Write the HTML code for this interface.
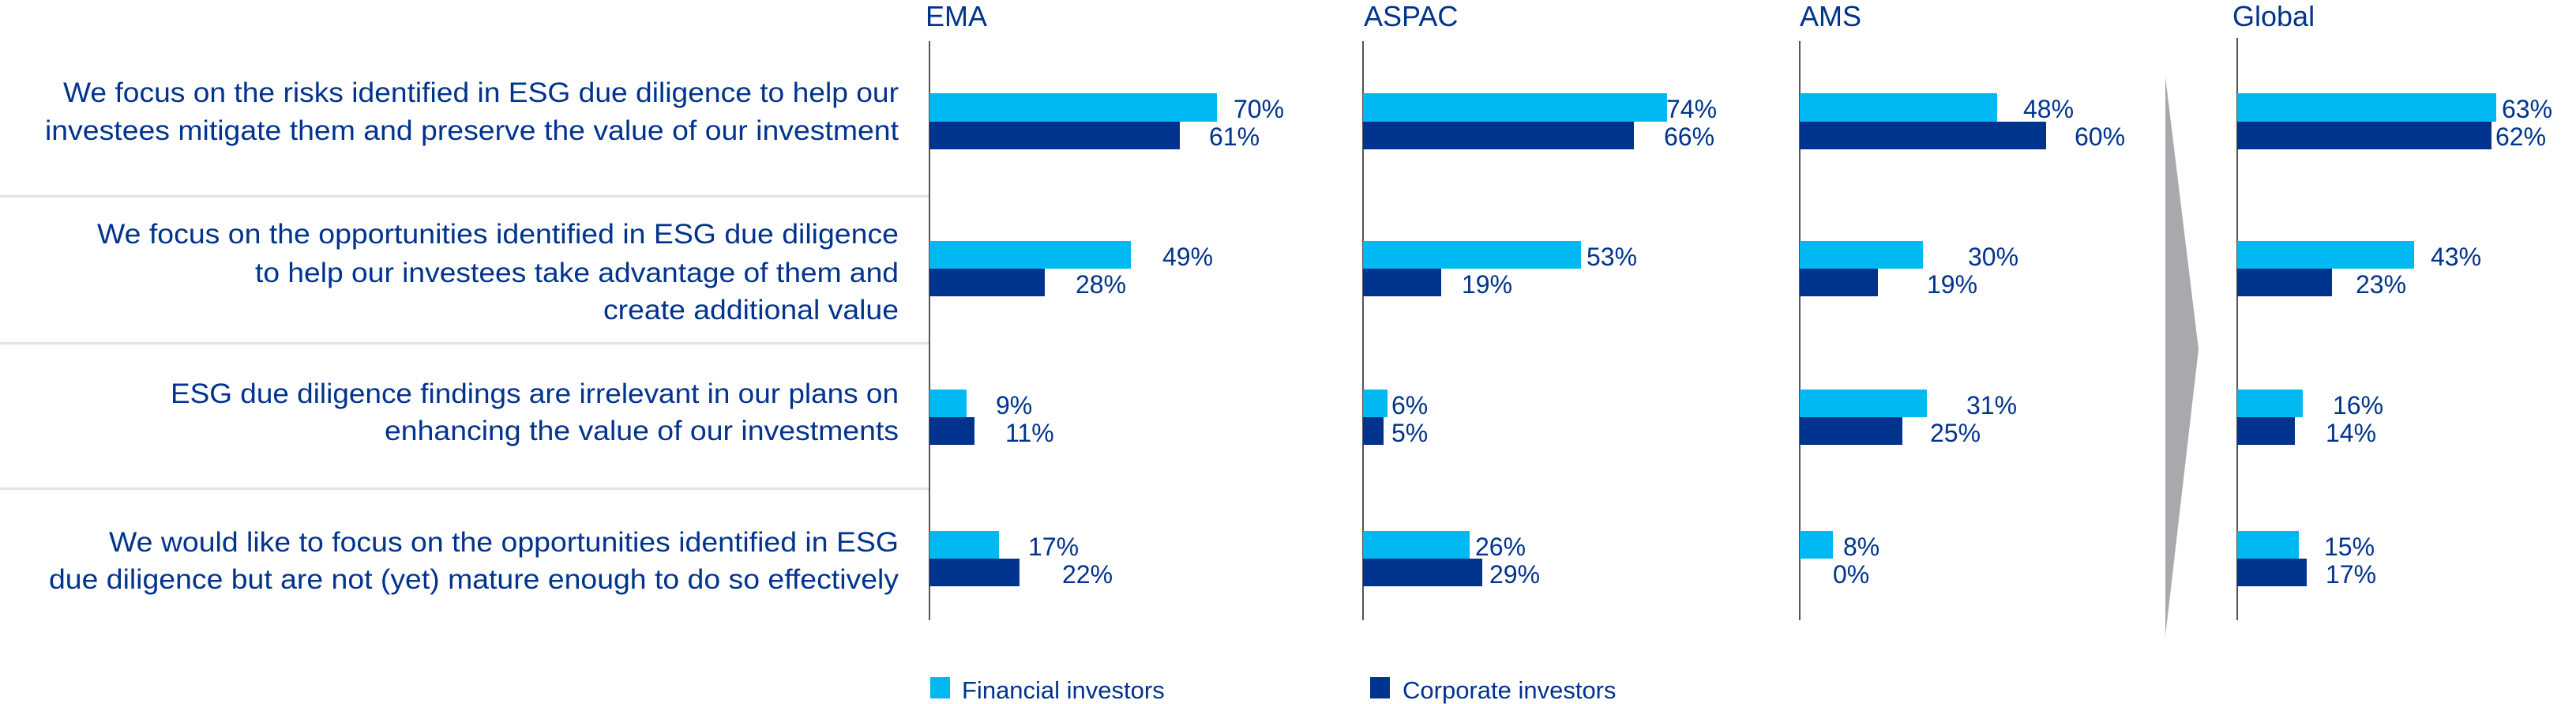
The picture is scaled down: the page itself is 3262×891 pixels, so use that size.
<!DOCTYPE html>
<html><head><meta charset="utf-8"><style>
html,body{margin:0;padding:0;background:#fff;}
svg{display:block;}
text{font-family:"Liberation Sans",sans-serif;fill:#00338d;}
.lab{font-size:35px;}
.val{font-size:32px;}
.tit{font-size:36px;}
.leg{font-size:31px;}
</style></head><body>
<svg width="3262" height="891" viewBox="0 0 3262 891" xmlns="http://www.w3.org/2000/svg">
<rect x="0" y="247" width="1177" height="3" fill="#e3e3e3"/>
<rect x="0" y="433" width="1177" height="3" fill="#e3e3e3"/>
<rect x="0" y="617" width="1177" height="3" fill="#e3e3e3"/>
<rect x="1176" y="52" width="2" height="733" fill="#555"/>
<rect x="1725" y="52" width="2" height="733" fill="#555"/>
<rect x="2278" y="52" width="2" height="733" fill="#555"/>
<rect x="2832" y="48" width="2" height="737" fill="#555"/>
<polygon points="2742,97 2784,442 2742,805" fill="#a7a9ac"/>
<text class="tit" x="1172" y="33">EMA</text>
<text class="tit" x="1727" y="33">ASPAC</text>
<text class="tit" x="2279" y="33">AMS</text>
<text class="tit" x="2827" y="33">Global</text>
<g class="lab" text-anchor="end">
<text x="1138" y="129" textLength="1058" lengthAdjust="spacingAndGlyphs">We focus on the risks identified in ESG due diligence to help our</text>
<text x="1138" y="177" textLength="1081" lengthAdjust="spacingAndGlyphs">investees mitigate them and preserve the value of our investment</text>
<text x="1138" y="308" textLength="1015" lengthAdjust="spacingAndGlyphs">We focus on the opportunities identified in ESG due diligence</text>
<text x="1138" y="357" textLength="815" lengthAdjust="spacingAndGlyphs">to help our investees take advantage of them and</text>
<text x="1138" y="404" textLength="374" lengthAdjust="spacingAndGlyphs">create additional value</text>
<text x="1138" y="510" textLength="922" lengthAdjust="spacingAndGlyphs">ESG due diligence findings are irrelevant in our plans on</text>
<text x="1138" y="557" textLength="651" lengthAdjust="spacingAndGlyphs">enhancing the value of our investments</text>
<text x="1138" y="698" textLength="1000" lengthAdjust="spacingAndGlyphs">We would like to focus on the opportunities identified in ESG</text>
<text x="1138" y="745" textLength="1076" lengthAdjust="spacingAndGlyphs">due diligence but are not (yet) mature enough to do so effectively</text>
</g>
<g>
<rect x="1177" y="118" width="364" height="36" fill="#00b9f2"/><rect x="1177" y="154" width="317" height="35" fill="#00338d"/>
<rect x="1177" y="305" width="255" height="35" fill="#00b9f2"/><rect x="1177" y="340" width="146" height="35" fill="#00338d"/>
<rect x="1177" y="493" width="47" height="35" fill="#00b9f2"/><rect x="1177" y="528" width="57" height="35" fill="#00338d"/>
<rect x="1177" y="672" width="88" height="35" fill="#00b9f2"/><rect x="1177" y="707" width="114" height="35" fill="#00338d"/>
<rect x="1726" y="118" width="385" height="36" fill="#00b9f2"/><rect x="1726" y="154" width="343" height="35" fill="#00338d"/>
<rect x="1726" y="305" width="276" height="35" fill="#00b9f2"/><rect x="1726" y="340" width="99" height="35" fill="#00338d"/>
<rect x="1726" y="493" width="31" height="35" fill="#00b9f2"/><rect x="1726" y="528" width="26" height="35" fill="#00338d"/>
<rect x="1726" y="672" width="135" height="35" fill="#00b9f2"/><rect x="1726" y="707" width="151" height="35" fill="#00338d"/>
<rect x="2279" y="118" width="250" height="36" fill="#00b9f2"/><rect x="2279" y="154" width="312" height="35" fill="#00338d"/>
<rect x="2279" y="305" width="156" height="35" fill="#00b9f2"/><rect x="2279" y="340" width="99" height="35" fill="#00338d"/>
<rect x="2279" y="493" width="161" height="35" fill="#00b9f2"/><rect x="2279" y="528" width="130" height="35" fill="#00338d"/>
<rect x="2279" y="672" width="42" height="35" fill="#00b9f2"/>
<rect x="2833" y="118" width="328" height="36" fill="#00b9f2"/><rect x="2833" y="154" width="322" height="35" fill="#00338d"/>
<rect x="2833" y="305" width="224" height="35" fill="#00b9f2"/><rect x="2833" y="340" width="120" height="35" fill="#00338d"/>
<rect x="2833" y="493" width="83" height="35" fill="#00b9f2"/><rect x="2833" y="528" width="73" height="35" fill="#00338d"/>
<rect x="2833" y="672" width="78" height="35" fill="#00b9f2"/><rect x="2833" y="707" width="88" height="35" fill="#00338d"/>
</g>
<g class="val">
<text x="1562" y="149">70%</text><text x="1531" y="184">61%</text>
<text x="1472" y="336">49%</text><text x="1362" y="371">28%</text>
<text x="1261" y="524">9%</text><text x="1273" y="559">11%</text>
<text x="1302" y="703">17%</text><text x="1345" y="738">22%</text>
<text x="2110" y="149">74%</text><text x="2107" y="184">66%</text>
<text x="2009" y="336">53%</text><text x="1851" y="371">19%</text>
<text x="1762" y="524">6%</text><text x="1762" y="559">5%</text>
<text x="1868" y="703">26%</text><text x="1886" y="738">29%</text>
<text x="2562" y="149">48%</text><text x="2627" y="184">60%</text>
<text x="2492" y="336">30%</text><text x="2440" y="371">19%</text>
<text x="2490" y="524">31%</text><text x="2444" y="559">25%</text>
<text x="2334" y="703">8%</text><text x="2321" y="738">0%</text>
<text x="3168" y="149">63%</text><text x="3160" y="184">62%</text>
<text x="3078" y="336">43%</text><text x="2983" y="371">23%</text>
<text x="2954" y="524">16%</text><text x="2945" y="559">14%</text>
<text x="2943" y="703">15%</text><text x="2945" y="738">17%</text>
</g>
<rect x="1178" y="857" width="25" height="27" fill="#00b9f2"/>
<text class="leg" x="1218" y="884">Financial investors</text>
<rect x="1735" y="857" width="25" height="27" fill="#00338d"/>
<text class="leg" x="1776" y="884">Corporate investors</text>
</svg>
</body></html>
